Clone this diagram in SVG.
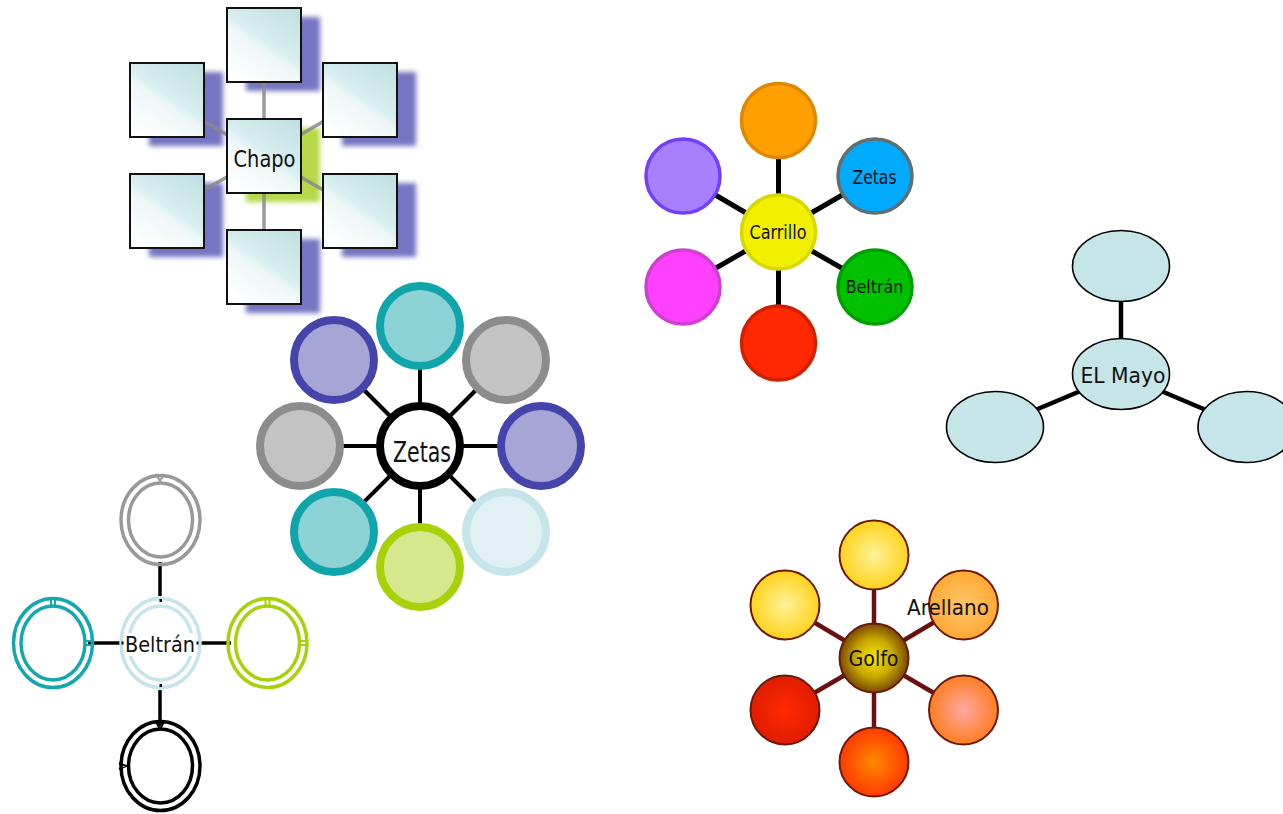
<svg xmlns="http://www.w3.org/2000/svg" width="1283" height="814" viewBox="0 0 1283 814">
<style>
text{font-family:"DejaVu Sans","Liberation Sans",sans-serif;fill:#111;text-anchor:middle}
.box{fill:url(#boxg);stroke:#111;stroke-width:2}
.shadow{fill:#7474c2}
.cline{stroke:#8a8a8a;stroke-width:3.5;opacity:0.85}
.zl{stroke:#000;stroke-width:4}
.cl{stroke:#000;stroke-width:5}
.ml{stroke:#000;stroke-width:4.5}
.gl{stroke:#6b1010;stroke-width:4.5}
.bl{stroke:#000;stroke-width:3.5}
.me{fill:#c6e5e9;stroke:#000;stroke-width:1.6}
.gc{stroke:#6a1a0a;stroke-width:2}
.dbl{fill:none;stroke-width:3.5}
</style>
<defs>
<linearGradient id="boxg" x1="0.15" y1="1" x2="0.85" y2="0">
<stop offset="0" stop-color="#ffffff"/>
<stop offset="0.45" stop-color="#eef7f8"/>
<stop offset="0.55" stop-color="#d8eef0"/>
<stop offset="1" stop-color="#c2e1e4"/>
</linearGradient>
<filter id="blur" x="-20%" y="-20%" width="140%" height="140%"><feGaussianBlur stdDeviation="2.5"/></filter>
<radialGradient id="gCenter"><stop offset="0" stop-color="#f0e800"/><stop offset="0.55" stop-color="#c8a800"/><stop offset="1" stop-color="#7a4800"/></radialGradient>
<radialGradient id="gYellow"><stop offset="0" stop-color="#fff39a"/><stop offset="1" stop-color="#ffd21c"/></radialGradient>
<radialGradient id="gAre"><stop offset="0" stop-color="#ffc868"/><stop offset="1" stop-color="#ffa834"/></radialGradient>
<radialGradient id="gPink"><stop offset="0" stop-color="#ffa8a4"/><stop offset="1" stop-color="#ff7e22"/></radialGradient>
<radialGradient id="gOr"><stop offset="0" stop-color="#ff8a00"/><stop offset="1" stop-color="#ff3a00"/></radialGradient>
<radialGradient id="gRed"><stop offset="0" stop-color="#ff2a00"/><stop offset="1" stop-color="#e01c00"/></radialGradient>
</defs>

<!-- Chapo cluster -->
<g id="chapo-shadows" filter="url(#blur)">
<rect class="shadow" x="246" y="17" width="74" height="74"/>
<rect class="shadow" x="149" y="72" width="74" height="74"/>
<rect class="shadow" x="342" y="72" width="74" height="74"/>
<rect class="shadow" x="149" y="183" width="74" height="74"/>
<rect class="shadow" x="342" y="183" width="74" height="74"/>
<rect class="shadow" x="246" y="239" width="74" height="74"/>
<rect x="246" y="128" width="74" height="74" fill="#b6d84a"/>
</g>
<g id="chapo-connectors">
<line class="cline" x1="264" y1="156" x2="264" y2="45"/>
<line class="cline" x1="264" y1="156" x2="264" y2="267"/>
<line class="cline" x1="264" y1="156" x2="167" y2="100"/>
<line class="cline" x1="264" y1="156" x2="360" y2="100"/>
<line class="cline" x1="264" y1="156" x2="167" y2="211"/>
<line class="cline" x1="264" y1="156" x2="360" y2="211"/>
</g>
<g id="chapo-top"><rect class="box" x="227" y="8" width="74" height="74"/></g>
<g id="chapo-tl"><rect class="box" x="130" y="63" width="74" height="74"/></g>
<g id="chapo-tr"><rect class="box" x="323" y="63" width="74" height="74"/></g>
<g id="chapo-bl"><rect class="box" x="130" y="174" width="74" height="74"/></g>
<g id="chapo-br"><rect class="box" x="323" y="174" width="74" height="74"/></g>
<g id="chapo-bottom"><rect class="box" x="227" y="230" width="74" height="74"/></g>
<g id="chapo"><rect class="box" x="227" y="119" width="74" height="74"/>
<text x="264.5" y="167" font-size="23" textLength="62" lengthAdjust="spacingAndGlyphs">Chapo</text></g>

<!-- Zetas cluster -->
<g id="zetas-connectors">
<line class="zl" x1="420" y1="446" x2="420" y2="326"/>
<line class="zl" x1="420" y1="446" x2="420" y2="567"/>
<line class="zl" x1="420" y1="446" x2="300" y2="446"/>
<line class="zl" x1="420" y1="446" x2="541" y2="446"/>
<line class="zl" x1="420" y1="446" x2="334" y2="360"/>
<line class="zl" x1="420" y1="446" x2="506" y2="360"/>
<line class="zl" x1="420" y1="446" x2="334" y2="532"/>
<line class="zl" x1="420" y1="446" x2="506" y2="532"/>
</g>
<g id="z-top"><circle cx="420" cy="326" r="40" fill="#8dd3d6" stroke="#10a5aa" stroke-width="8"/></g>
<g id="z-tr"><circle cx="506" cy="360" r="40" fill="#c3c3c3" stroke="#8c8c8c" stroke-width="8"/></g>
<g id="z-right"><circle cx="541" cy="446" r="40" fill="#a6a6d6" stroke="#4444aa" stroke-width="8"/></g>
<g id="z-br"><circle cx="506" cy="532" r="40" fill="#e1f1f3" stroke="#c6e5ea" stroke-width="8"/></g>
<g id="z-bottom"><circle cx="420" cy="567" r="40" fill="#d5e88e" stroke="#a8d10a" stroke-width="8"/></g>
<g id="z-bl"><circle cx="334" cy="532" r="40" fill="#8dd3d6" stroke="#10a5aa" stroke-width="8"/></g>
<g id="z-left"><circle cx="300" cy="446" r="40" fill="#c3c3c3" stroke="#8c8c8c" stroke-width="8"/></g>
<g id="z-tl"><circle cx="334" cy="360" r="40" fill="#a6a6d6" stroke="#4444aa" stroke-width="8"/></g>
<g id="zetas"><circle cx="420" cy="446" r="40" fill="#fff" stroke="#000" stroke-width="8"/>
<text x="422" y="462" font-size="28" textLength="58" lengthAdjust="spacingAndGlyphs">Zetas</text></g>

<!-- Beltrán cluster -->
<g id="beltran-connectors">
<line class="bl" x1="160" y1="562" x2="160" y2="596"/>
<line class="bl" x1="160" y1="690" x2="160" y2="726"/>
<line class="bl" x1="88" y1="643" x2="120" y2="643"/>
<line class="bl" x1="199" y1="643" x2="231" y2="643"/>
</g>
<g id="b-top" stroke="#999"><ellipse class="dbl" cx="160.5" cy="520" rx="39.5" ry="44.5"/><ellipse class="dbl" cx="160.5" cy="520" rx="32" ry="37"/>
<path d="M156 474 L160 481 L164 474" fill="none" stroke-width="2"/></g>
<g id="b-left" stroke="#13a8ad"><ellipse class="dbl" cx="53" cy="643" rx="39.5" ry="44.5"/><ellipse class="dbl" cx="53" cy="643" rx="32" ry="37"/>
<path d="M51 597 V605 M55 597 V605 M86 641 H93 M86 645 H93" fill="none" stroke-width="2"/></g>
<g id="b-right" stroke="#a8d10a"><ellipse class="dbl" cx="267.5" cy="643" rx="39.5" ry="44.5"/><ellipse class="dbl" cx="267.5" cy="643" rx="32" ry="37"/>
<path d="M265.5 597 V605 M269.5 597 V605 M301 641 H308 M301 645 H308" fill="none" stroke-width="2"/></g>
<g id="b-bottom" stroke="#000"><ellipse class="dbl" cx="160.5" cy="766" rx="39.5" ry="44.5"/><ellipse class="dbl" cx="160.5" cy="766" rx="32" ry="37"/>
<path d="M156 722 L160 729 L164 722 M119 763 L126 766 L119 769" fill="none" stroke-width="2"/></g>
<g id="beltran"><ellipse class="dbl" cx="160.5" cy="643" rx="39.5" ry="44.5" stroke="#c6e5ea"/><ellipse class="dbl" cx="160.5" cy="643" rx="32" ry="37" stroke="#c6e5ea"/>
<rect x="124" y="633" width="73" height="23" fill="#fff"/>
<rect x="121.5" y="641.5" width="2" height="3" fill="#000"/><rect x="196.5" y="641.5" width="2" height="3" fill="#000"/>
<rect x="159.5" y="599" width="2.5" height="3" fill="#000"/><rect x="159.5" y="684" width="2.5" height="3" fill="#000"/>
<text x="160" y="652" font-size="21.5" textLength="70" lengthAdjust="spacingAndGlyphs">Beltrán</text></g>

<!-- Carrillo cluster -->
<g id="carrillo-connectors">
<line class="cl" x1="778.5" y1="232" x2="778.5" y2="120"/>
<line class="cl" x1="778.5" y1="232" x2="778.5" y2="343"/>
<line class="cl" x1="778.5" y1="232" x2="683" y2="176"/>
<line class="cl" x1="778.5" y1="232" x2="875" y2="176"/>
<line class="cl" x1="778.5" y1="232" x2="683" y2="287"/>
<line class="cl" x1="778.5" y1="232" x2="875" y2="287"/>
</g>
<g id="c-top"><circle cx="778.5" cy="120.5" r="37" fill="#ffa000" stroke="#e08800" stroke-width="3.5"/></g>
<g id="c-tl"><circle cx="683" cy="176" r="37" fill="#a880ff" stroke="#7040ff" stroke-width="3.5"/></g>
<g id="c-zetas"><circle cx="875" cy="176" r="37" fill="#00aaff" stroke="#607070" stroke-width="3.5"/>
<text x="874.5" y="184" font-size="19" textLength="44" lengthAdjust="spacingAndGlyphs">Zetas</text></g>
<g id="c-bl"><circle cx="683" cy="287" r="37" fill="#ff40ff" stroke="#d040d0" stroke-width="3.5"/></g>
<g id="c-beltran"><circle cx="875" cy="287" r="37" fill="#00c000" stroke="#00a000" stroke-width="3.5"/>
<text x="874.5" y="293" font-size="18.5" textLength="57.5" lengthAdjust="spacingAndGlyphs">Beltrán</text></g>
<g id="c-bottom"><circle cx="778.5" cy="343" r="37" fill="#ff2800" stroke="#d02000" stroke-width="3.5"/></g>
<g id="carrillo"><circle cx="778.5" cy="232" r="37" fill="#f0f000" stroke="#d8d800" stroke-width="3.5"/>
<text x="778" y="239" font-size="19" textLength="57" lengthAdjust="spacingAndGlyphs">Carrillo</text></g>

<!-- El Mayo cluster -->
<g id="mayo-connectors">
<line class="ml" x1="1121" y1="374" x2="1121" y2="266"/>
<line class="ml" x1="1121" y1="374" x2="995" y2="427"/>
<line class="ml" x1="1121" y1="374" x2="1246" y2="427"/>
</g>
<g id="m-top"><ellipse class="me" cx="1121" cy="266" rx="48.5" ry="35.5"/></g>
<g id="m-left"><ellipse class="me" cx="995" cy="427" rx="48.5" ry="35.5"/></g>
<g id="m-right"><ellipse class="me" cx="1246.5" cy="427" rx="48.5" ry="35.5"/></g>
<g id="elmayo"><ellipse class="me" cx="1121" cy="374" rx="48.5" ry="35.5"/>
<text x="1123" y="383" font-size="20.5" textLength="85" lengthAdjust="spacingAndGlyphs">EL Mayo</text></g>

<!-- Golfo cluster -->
<g id="golfo-connectors">
<line class="gl" x1="874" y1="658" x2="874" y2="555"/>
<line class="gl" x1="874" y1="658" x2="874" y2="762"/>
<line class="gl" x1="874" y1="658" x2="785" y2="605"/>
<line class="gl" x1="874" y1="658" x2="963" y2="605"/>
<line class="gl" x1="874" y1="658" x2="785" y2="710"/>
<line class="gl" x1="874" y1="658" x2="963" y2="710"/>
</g>
<g id="g-top"><circle class="gc" cx="874" cy="555" r="34.5" fill="url(#gYellow)"/></g>
<g id="g-tl"><circle class="gc" cx="785" cy="605" r="34.5" fill="url(#gYellow)"/></g>
<g id="g-arellano"><circle class="gc" cx="963.5" cy="605" r="34.5" fill="url(#gAre)"/></g>
<g id="g-br"><circle class="gc" cx="963.5" cy="710" r="34.5" fill="url(#gPink)"/></g>
<g id="g-bottom"><circle class="gc" cx="874" cy="762" r="34.5" fill="url(#gOr)"/></g>
<g id="g-bl"><circle class="gc" cx="785" cy="710" r="34.5" fill="url(#gRed)"/></g>
<g id="golfo"><circle class="gc" cx="874" cy="658" r="34.5" fill="url(#gCenter)"/>
<text x="873.5" y="666" font-size="22" textLength="50" lengthAdjust="spacingAndGlyphs">Golfo</text></g>
<g id="arellano-label"><text x="948" y="615" font-size="20.5" textLength="82" lengthAdjust="spacingAndGlyphs">Arellano</text></g>
</svg>
